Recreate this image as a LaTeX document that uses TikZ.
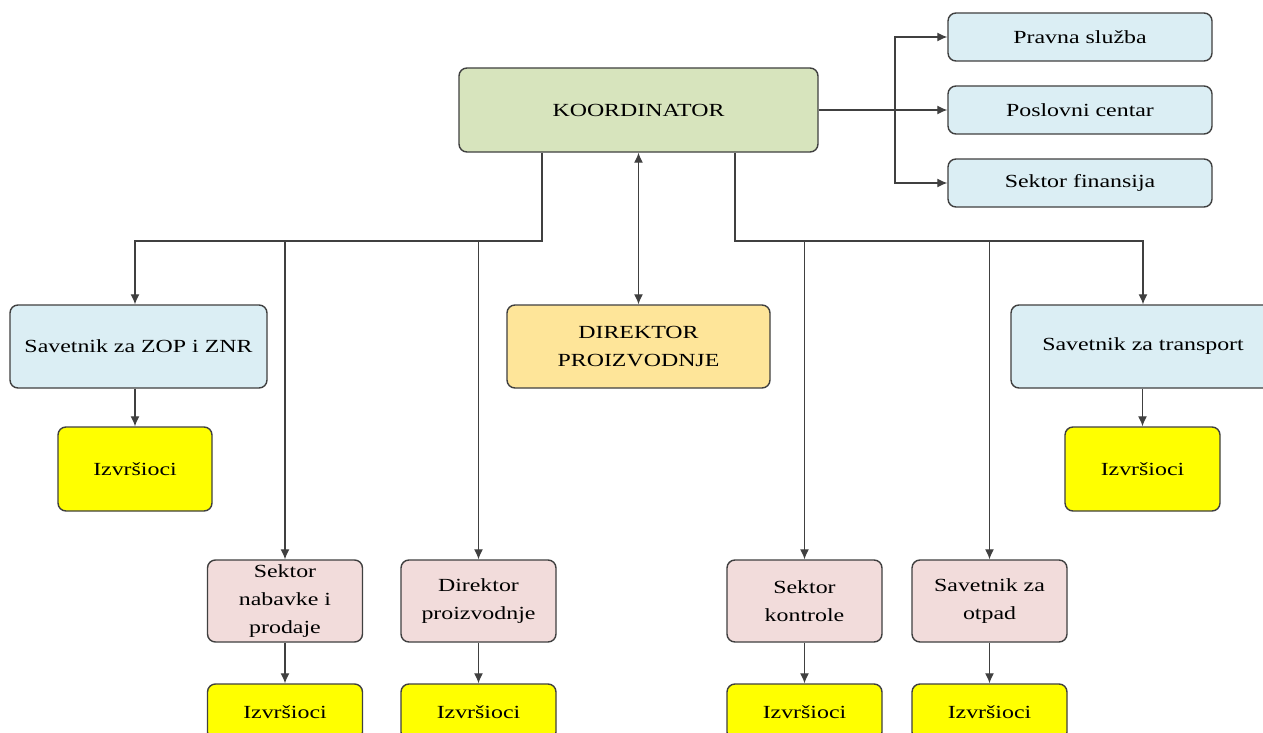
\documentclass[tikz,border=0pt]{standalone}
\usepackage{fontspec}
\setmainfont{Liberation Serif}[FakeStretch=1.29]
\usetikzlibrary{arrows.meta}
\definecolor{cgreen}{HTML}{D7E4BD}
\definecolor{cblue}{HTML}{DBEEF4}
\definecolor{corange}{HTML}{FEE599}
\definecolor{cpink}{HTML}{F2DCDB}
\definecolor{cyellow}{HTML}{FFFF00}
\definecolor{cline}{HTML}{404040}
\begin{document}
\begin{tikzpicture}[x=1pt,y=-1pt,
  box/.style={draw=cline,line width=1.4pt,rounded corners=8pt,inner sep=0pt,align=center,
    font=\fontsize{18.5}{28}\selectfont,text=black},
  conn/.style={draw=cline,line width=1.3pt},
  arr/.style={conn,-{Latex[length=10pt,width=9pt]}},
  darr/.style={conn,{Latex[length=10pt,width=9pt]}-{Latex[length=10pt,width=9pt]}}]
\clip (0,0) rectangle (1263,733);
\fill[white] (0,0) rectangle (1263,733);
% top
\node[box,fill=cgreen,minimum width=359pt,minimum height=84pt] (k) at (638.5,110) {KOORDINATOR};
\node[box,fill=cblue,minimum width=264pt,minimum height=48pt] (prav) at (1080,37) {Pravna služba};
\node[box,fill=cblue,minimum width=264pt,minimum height=48pt] (pos) at (1080,110) {Poslovni centar};
\node[box,fill=cblue,minimum width=264pt,minimum height=48pt] (fin) at (1080,183) {Sektor finansija};
% middle row
\node[box,fill=cblue,minimum width=257pt,minimum height=83pt] (zop) at (138.5,346.5) {Savetnik za ZOP i ZNR};
\node[box,fill=corange,minimum width=263pt,minimum height=83pt] (dir) at (638.5,346.5) {DIREKTOR\\PROIZVODNJE};
\node[box,fill=cblue,minimum width=264pt,minimum height=83pt] (tr) at (1143,346.5) {Savetnik za transport};
\node[box,fill=cyellow,minimum width=154pt,minimum height=84pt] (iz1) at (135,469) {Izvršioci};
\node[box,fill=cyellow,minimum width=155pt,minimum height=84pt] (iz2) at (1142.5,469) {Izvršioci};
% lower row
\node[box,fill=cpink,minimum width=155pt,minimum height=82pt] (nab) at (285,601) {Sektor\\nabavke i\\prodaje};
\node[box,fill=cpink,minimum width=155pt,minimum height=82pt] (dp) at (478.5,601) {Direktor\\proizvodnje};
\node[box,fill=cpink,minimum width=155pt,minimum height=82pt] (kon) at (804.5,601) {Sektor\\kontrole};
\node[box,fill=cpink,minimum width=155pt,minimum height=82pt] (otp) at (989.5,601) {Savetnik za\\otpad};
\node[box,fill=cyellow,minimum width=155pt,minimum height=56pt] (iz3) at (285,712) {Izvršioci};
\node[box,fill=cyellow,minimum width=155pt,minimum height=56pt] (iz4) at (478.5,712) {Izvršioci};
\node[box,fill=cyellow,minimum width=155pt,minimum height=56pt] (iz5) at (804.5,712) {Izvršioci};
\node[box,fill=cyellow,minimum width=155pt,minimum height=56pt] (iz6) at (989.5,712) {Izvršioci};
% connectors
\coordinate (bl) at (542,241);
\coordinate (br) at (735,241);
\coordinate (bus) at (895,110);
\draw[arr] (k.south -| bl) -- (bl) -| (zop.north -| iz1);
\draw[arr] (bl -| nab) -- (nab);
\draw[arr] (bl -| dp) -- (dp);
\draw[arr] (k.south -| br) -- (br) -| (tr);
\draw[arr] (br -| kon) -- (kon);
\draw[arr] (br -| otp) -- (otp);
\draw[darr] (k) -- (dir);
\draw[arr] (k.east) -- (pos);
\draw[arr] (bus) |- (prav);
\draw[arr] (bus) |- (fin);
\draw[arr] (zop.south -| iz1) -- (iz1);
\draw[arr] (tr.south -| iz2) -- (iz2);
\draw[arr] (nab) -- (iz3);
\draw[arr] (dp) -- (iz4);
\draw[arr] (kon) -- (iz5);
\draw[arr] (otp) -- (iz6);
\end{tikzpicture}
\end{document}
